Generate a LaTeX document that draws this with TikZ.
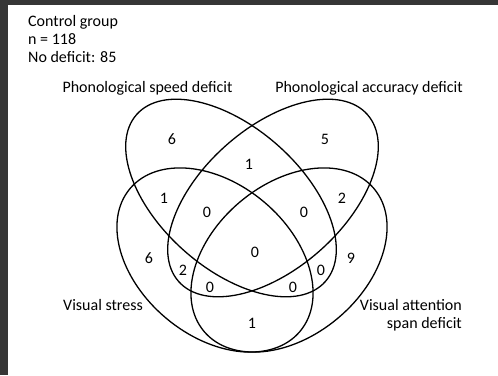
\documentclass[tikz,border=0pt]{standalone}
\usepackage{fontspec}
\setmainfont{Carlito}
\definecolor{framegray}{RGB}{54,54,54}
\tikzset{
  venn/.style={draw=black, line width=1.3pt},
  lbl/.style={font=\fontsize{16}{18}\selectfont, inner sep=0pt, text=black},
  num/.style={font=\fontsize{16}{18}\selectfont, inner sep=0pt, text=black, anchor=center}
}
\begin{document}
\begin{tikzpicture}[x=1pt, y=-1pt]
\useasboundingbox (0,0) rectangle (498,375);
\fill[framegray] (0,0) rectangle (498,375);
\fill[white] (8,5) rectangle (498,375);
% ellipses
\draw[venn, rotate around={-41.5:(231,198)}] (231,198) ellipse [x radius=126, y radius=70.5];
\draw[venn, rotate around={41.5:(273,198)}] (273,198) ellipse [x radius=126, y radius=70.5];
\draw[venn, rotate around={-40:(215,260)}] (215,260) ellipse [x radius=111, y radius=76];
\draw[venn, rotate around={40:(289,260)}] (289,260) ellipse [x radius=111, y radius=76];
% header text
\node[lbl, anchor=base west] (hdr1) at (28,26) {Control group};
\node[lbl, anchor=base west] (hdr2) at (28,44) {n = 118};
\node[lbl, anchor=base west] (hdr3) at (28,62.5) {No deficit: 85};
% set labels
\node[lbl, anchor=base] (lps) at (147.5,92.7) {Phonological speed deficit};
\node[lbl, anchor=base] (lpa) at (369,92.7) {Phonological accuracy deficit};
\node[lbl, anchor=base west] (lvs) at (63,310) {Visual stress};
\node[lbl, anchor=base east] (lva1) at (462,310) {Visual attention};
\node[lbl, anchor=base east] (lva2) at (462,328) {span deficit};
% region counts
\node[num] (n1) at (172,139) {6};
\node[num] (n2) at (325,139) {5};
\node[num] (n3) at (249,164) {1};
\node[num] (n4) at (164,198) {1};
\node[num] (n5) at (207,212) {0};
\node[num] (n6) at (304,212) {0};
\node[num] (n7) at (342,198) {2};
\node[num] (n8) at (255,252) {0};
\node[num] (n9) at (149,258) {6};
\node[num] (n10) at (183,270) {2};
\node[num] (n11) at (210,287) {0};
\node[num] (n12) at (293,287) {0};
\node[num] (n13) at (321,270) {0};
\node[num] (n14) at (351,258) {9};
\node[num] (n15) at (252,323) {1};
\end{tikzpicture}
\end{document}
